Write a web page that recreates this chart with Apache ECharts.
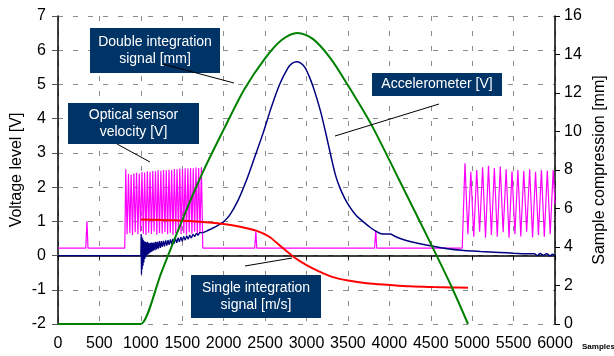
<!DOCTYPE html>
<html>
<head>
<meta charset="utf-8">
<script src="https://cdn.jsdelivr.net/npm/echarts@6/dist/echarts.min.js"></script>
<style>
  html, body { margin: 0; padding: 0; background: #fff; }
  #chart { width: 614px; height: 356px; }
</style>
</head>
<body>
<div id="chart"></div>
<script>
// values: [sample, value]
var opticalSensor = [
  [0,0.22],[335,0.22],[350,1.0],[362,0.22],[806,0.22],
  [818,2.52],[834,0.62],[851,2.38],[867,0.66],[883,2.36],[899,0.6],[916,2.4],[932,0.68],
  [948,2.42],[965,0.62],[981,2.4],[997,0.7],[1014,2.44],[1030,0.64],[1046,2.43],[1062,0.6],
  [1079,2.46],[1095,0.67],[1111,2.45],[1128,0.63],[1144,2.47],[1160,0.7],[1177,2.46],[1193,0.61],
  [1209,2.49],[1225,0.66],[1242,2.48],[1258,0.64],[1274,2.5],[1291,0.69],[1307,2.49],[1323,0.62],
  [1340,2.51],[1356,0.67],[1372,2.5],[1388,0.6],[1405,2.53],[1421,0.65],[1437,2.52],[1454,0.7],
  [1470,2.54],[1486,0.63],[1503,2.53],[1519,0.66],[1535,2.55],[1551,0.61],[1568,2.54],[1584,0.68],
  [1600,2.56],[1617,0.64],[1633,2.55],[1649,0.7],[1666,2.57],[1682,0.62],[1698,2.56],[1714,0.66],
  [1731,2.58],[1748,0.22],
  [2375,0.22],[2388,0.7],[2400,0.22],[3822,0.22],[3836,0.73],[3848,0.22],[4880,0.22],
  [4913,2.7],[4948,0.62],[4984,2.45],[5019,0.55],[5055,2.5],[5090,0.7],[5126,2.58],[5161,0.52],
  [5197,2.62],[5232,0.6],[5268,2.56],[5303,0.55],[5339,2.6],[5374,0.68],[5410,2.52],[5445,0.52],
  [5481,2.46],[5516,0.62],[5552,2.5],[5587,0.56],[5623,2.47],[5658,0.7],[5694,2.52],[5729,0.53],
  [5765,2.45],[5800,0.6],[5836,2.5],[5871,0.55],[5907,2.48],[5942,0.62],[5978,2.5],[6000,1.5]
];

var accelNoise = [
  [0,0],[1000,0.0],[1004,0.63],[1008,-0.55],[1012,0.55],[1016,-0.4],[1021,0.5],[1026,-0.3],
  [1031,0.45],[1036,-0.2],[1041,0.42],[1047,-0.1],[1053,0.4],[1059,-0.05],[1065,0.38],[1072,0.0],
  [1079,0.4],[1086,0.03],[1093,0.37],[1100,0.06],[1108,0.36],[1116,0.09],[1124,0.38],[1132,0.11],
  [1141,0.37],[1150,0.14],[1160,0.39],[1170,0.16],[1180,0.4],[1190,0.18],[1201,0.4],[1212,0.2],
  [1224,0.42],[1236,0.22],[1248,0.42],[1260,0.25],[1273,0.43],[1286,0.27],[1300,0.44],[1314,0.29],
  [1328,0.45],[1342,0.31],[1357,0.47],[1372,0.33],[1387,0.49],[1402,0.35],[1418,0.5],[1434,0.37],
  [1450,0.52],[1466,0.4],[1483,0.54],[1500,0.42],[1518,0.56],[1536,0.45],[1554,0.58],[1572,0.48],
  [1590,0.6],[1610,0.51],[1630,0.62],[1650,0.55],[1670,0.65],[1690,0.59],[1710,0.67],[1730,0.62],
  [1750,0.67]
];

var accelCurve = [
  [1750,0.67],[1800,0.72],[1850,0.78],[1900,0.84],[1950,0.91],[2000,0.99],[2075,1.19],[2175,1.62],
  [2275,2.2],[2375,2.88],[2475,3.57],[2575,4.33],[2675,5.0],[2775,5.48],[2830,5.62],[2880,5.66],
  [2930,5.62],[2980,5.5],[3030,5.25],[3080,4.93],[3130,4.55],[3180,4.12],[3240,3.5],[3300,2.85],
  [3350,2.35],[3400,2.0],[3460,1.68],[3520,1.43],[3600,1.17],[3685,0.99],[3770,0.82],[3846,0.7],
  [3900,0.64],[3960,0.63],[4010,0.63],[4060,0.57],[4130,0.5],[4250,0.41],[4400,0.33],[4530,0.27],
  [4700,0.2],[4900,0.15],[5100,0.12],[5330,0.09],[5500,0.07],[5700,0.05],[5750,0.05],[5790,0.0],
  [5820,0.06],[5860,0.01],[5900,0.05],[5940,-0.01],[5970,0.04],[6000,0.0]
];

var singleIntegration = [
  [1000,1.05],[1250,1.04],[1500,1.02],[1750,0.98],[2000,0.92],[2200,0.84],[2400,0.72],[2550,0.55],
  [2700,0.25],[2850,-0.05],[3000,-0.28],[3150,-0.46],[3320,-0.63],[3500,-0.73],[3725,-0.81],
  [4000,-0.86],[4250,-0.9],[4530,-0.92],[4750,-0.93],[4950,-0.94]
];

// right axis, mm
var doubleIntegration = [
  [0,0],[990,0],[1000,0],[1250,2.7],[1500,5.4],[1750,7.9],[2000,10.1],[2250,12.2],[2500,13.8],
  [2700,14.75],[2890,15.12],[3080,14.8],[3290,13.8],[3500,12.4],[3786,10.33],[4119,7.48],
  [4518,4.02],[4750,1.95],[4950,0]
];

var notes = [
  { text: 'Double integration\nsignal [mm]', box: [90, 28, 130, 45], line: [163, 64, 234, 83] },
  { text: 'Optical sensor\nvelocity [V]', box: [68, 103, 131, 41], line: [117, 144, 150, 162] },
  { text: 'Accelerometer [V]', box: [372, 73, 130, 23], line: [335, 136, 439, 104] },
  { text: 'Single integration\nsignal [m/s]', box: [191, 275, 130, 43], line: [245, 266, 292, 258] }
];

var FONT = '"Liberation Sans", Arial, sans-serif';

var graphics = [];
notes.forEach(function (n) {
  graphics.push({
    type: 'rect', z: 100,
    shape: { x: n.box[0], y: n.box[1], width: n.box[2], height: n.box[3] },
    style: { fill: '#003366' }
  });
  graphics.push({
    type: 'text', z: 101,
    style: {
      text: n.text, x: n.box[0] + n.box[2] / 2, y: n.box[1] + n.box[3] / 2,
      align: 'center', verticalAlign: 'middle', fill: '#fff',
      font: '14px ' + FONT, lineHeight: 17
    }
  });
  graphics.push({
    type: 'line', z: 102,
    shape: { x1: n.line[0], y1: n.line[1], x2: n.line[2], y2: n.line[3] },
    style: { stroke: '#000', lineWidth: 1 }
  });
});
graphics.push({
  type: 'text', z: 101,
  style: { text: 'Samples', x: 582, y: 347, verticalAlign: 'middle', fill: '#000',
           font: 'bold 8px ' + FONT }
});

var chart = echarts.init(document.getElementById('chart'));
var gridLine = { show: true, lineStyle: { color: '#8c8c8c', type: [5, 10], width: 1 } };
var option = {
  animation: false,
  backgroundColor: '#fff',
  grid: { left: 58, right: 59, top: 16, bottom: 32, outerBoundsMode: 'none' },
  xAxis: {
    type: 'value', min: 0, max: 6000, interval: 500,
    axisLine: { lineStyle: { color: '#000', width: 1.5 } },
    axisTick: { show: true, length: 4, lineStyle: { color: '#000' } },
    axisLabel: { color: '#000', fontSize: 16, fontFamily: FONT, margin: 12,
                 formatter: function (v) { return String(v); } },
    splitLine: gridLine
  },
  yAxis: [{
    type: 'value', min: -2, max: 7, interval: 1,
    name: 'Voltage level [V]', nameLocation: 'middle', nameGap: 33, nameMoveOverlap: false,
    nameTextStyle: { color: '#000', fontSize: 16, fontFamily: FONT },
    axisLine: { show: true, lineStyle: { color: '#000', width: 1.5 } },
    axisTick: { show: true, length: 6, lineStyle: { color: '#555' } },
    axisLabel: { color: '#000', fontSize: 16, fontFamily: FONT, margin: 12 },
    splitLine: gridLine
  }, {
    type: 'value', min: 0, max: 16, interval: 2, position: 'right',
    name: 'Sample compression [mm]', nameLocation: 'middle', nameGap: 37, nameRotate: 90,
    nameMoveOverlap: false,
    nameTextStyle: { color: '#000', fontSize: 16, fontFamily: FONT },
    axisLine: { show: true, lineStyle: { color: '#000', width: 1.5 } },
    axisTick: { show: true, length: 5, lineStyle: { color: '#000' } },
    axisLabel: { color: '#000', fontSize: 16, fontFamily: FONT, margin: 9 },
    splitLine: { show: false }
  }],
  series: [
    { type: 'line', data: opticalSensor, yAxisIndex: 0, showSymbol: false,
      lineStyle: { color: '#ff00ff', width: 1.2 } },
    { type: 'line', data: accelNoise, yAxisIndex: 0, showSymbol: false,
      lineStyle: { color: '#000080', width: 1.3 } },
    { type: 'line', data: accelCurve, yAxisIndex: 0, showSymbol: false, smooth: 0.3,
      lineStyle: { color: '#000080', width: 1.5 } },
    { type: 'line', data: singleIntegration, yAxisIndex: 0, showSymbol: false, smooth: 0.3,
      lineStyle: { color: '#ff0000', width: 2 } },
    { type: 'line', data: doubleIntegration, yAxisIndex: 1, showSymbol: false, smooth: 0.3,
      lineStyle: { color: '#008000', width: 2 } }
  ],
  graphic: graphics
};
chart.setOption(option);
</script>
</body>
</html>
